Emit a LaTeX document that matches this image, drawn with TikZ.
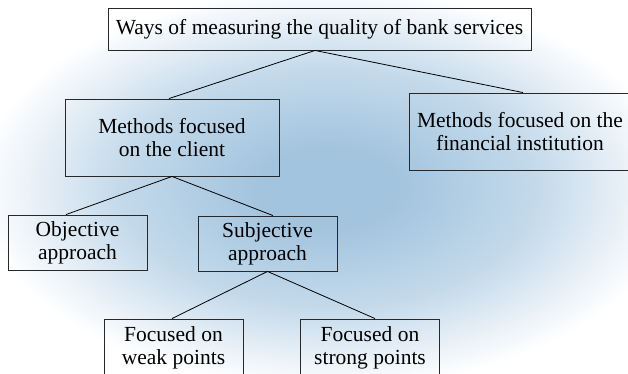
\documentclass[tikz,border=0pt]{standalone}
\usepackage{fontspec}
\setmainfont{Liberation Serif}
\definecolor{glowc}{RGB}{163,196,222}
\definecolor{glowm}{RGB}{196,218,235}
\definecolor{glowl}{RGB}{232,240,247}
\definecolor{boxc}{RGB}{40,40,40}
% radial glow: the path's bounding box spans -25bp..25bp of this profile
\pgfdeclareradialshading{bankglow}{\pgfpoint{0bp}{0bp}}{%
  color(0bp)=(glowc); color(5bp)=(glowc); color(15bp)=(glowm);
  color(21bp)=(glowl); color(25bp)=(white); color(50bp)=(white)}
\begin{document}
\begin{tikzpicture}[x=1pt,y=-1pt,
  box/.style={draw=boxc, line width=0.9pt, align=center, inner sep=0pt,
    text=black, font=\fontsize{21.5}{23}\selectfont},
  wide/.style={box, minimum width=423pt, minimum height=42pt},
  mid/.style={box, minimum width=214pt, minimum height=77pt},
  small/.style={box, minimum width=139pt, minimum height=55pt},
  link/.style={draw=black, line width=0.8pt}]
  \useasboundingbox (0,0) rectangle (628,373);
  \clip (0,0) rectangle (628,373);
  % soft blue glow behind the tree
  \shade[shading=bankglow] (328,188) ellipse [x radius=350, y radius=200];

  \node[wide] (top) at (319.5,29) {Ways of measuring the quality of bank services};
  \node[mid] (client) at (172,137.5) {Methods focused\\on the client};
  \node[box, minimum width=222pt, minimum height=77pt] (inst) at (520,131.5)
    {Methods focused on the\\financial institution};
  \node[small] (obj) at (77.5,242.5) {Objective\\approach};
  \node[small] (subj) at (267.5,243.5) {Subjective\\approach};
  \node[box, minimum width=139pt, minimum height=57pt] (weak) at (173.5,347.5)
    {Focused on\\weak points};
  \node[box, minimum width=139pt, minimum height=57pt] (strong) at (370,347.5)
    {Focused on\\strong points};

  \draw[link] ([xshift=-4.5pt]top.south) -- ([xshift=-3pt]client.north);
  \draw[link] ([xshift=-4.5pt]top.south) -- ([xshift=3pt]inst.north);
  \draw[link] (client.south) -- ([xshift=-11.5pt]obj.north);
  \draw[link] (client.south) -- ([xshift=5.5pt]subj.north);
  \draw[link] (subj.south) -- ([xshift=-1.5pt]weak.north);
  \draw[link] (subj.south) -- ([xshift=5pt]strong.north);
\end{tikzpicture}
\end{document}
